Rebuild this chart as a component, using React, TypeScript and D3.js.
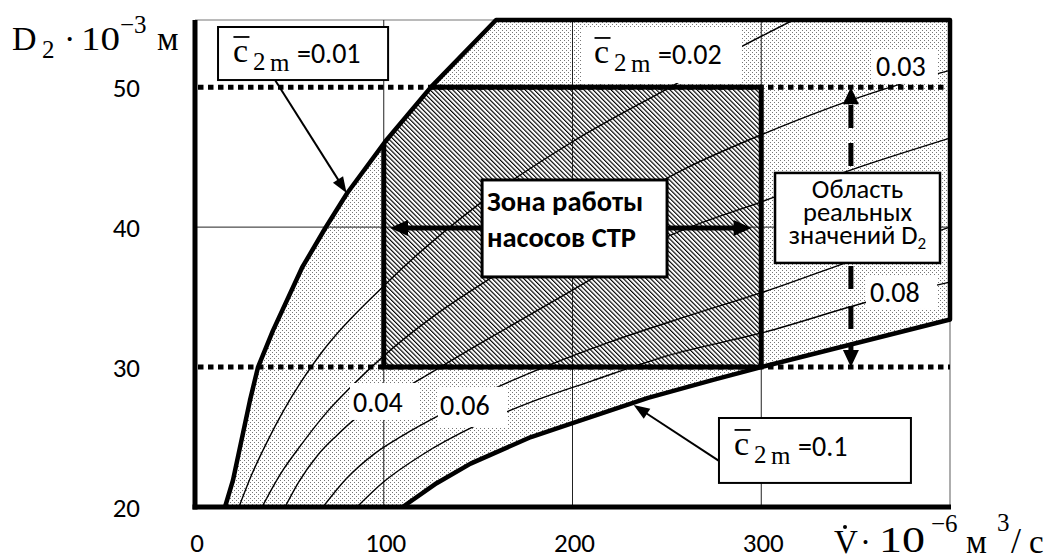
import React from "react";
import * as d3 from "d3";

type Pt = [number, number];

const W = 1048;
const H = 560;

// Axes: flow rate V̇·10⁻⁶ м³/с (x) and impeller diameter D₂·10⁻³ м (y)
const vDomain: Pt = [0, 400];
const dDomain: Pt = [20, 54.8];
const vTicks = [0, 100, 200, 300];
const dTicks = [20, 30, 40, 50];
const gridV = [100, 200, 300];
const gridD = [40];

// Iso-lines c̄2m = const, points are [V̇, D₂]
const iso001: Pt[] = [[15.9, 20], [20.1, 21.9], [29.1, 27.6], [33.4, 30], [41.3, 32.6], [56.7, 37.1], [68.9, 39.9], [80.5, 42.4], [100.7, 46.1], [125, 50], [159.5, 54.8]];
const iso002: Pt[] = [[23.3, 20], [30, 22.3], [38, 24.6], [47, 26.9], [56, 28.9], [68, 31.2], [100, 35.8], [151, 41.7], [200, 46.1], [253, 50.1], [291, 53.0], [317, 54.8]];
const iso003: Pt[] = [[35.5, 20], [45, 22.3], [56, 24.4], [70, 26.8], [82, 28.5], [100, 30.8], [125, 33.5], [156, 36.3], [220, 41.2], [260, 44.2], [300, 46.6], [366, 49.9], [400, 51.2]];
const iso004: Pt[] = [[47.7, 20], [55, 21.8], [65, 23.7], [75, 25.1], [84.8, 26.3], [100, 27.6], [115, 28.8], [130, 30.0], [150, 31.6], [200, 35.5], [250, 39.3], [302, 41.9], [350, 44.2], [400, 46.36]];
const iso006: Pt[] = [[67.8, 20], [80, 22.0], [95, 23.8], [110, 25.1], [130, 26.6], [164, 28.8], [185, 30.0], [220, 31.8], [260, 33.6], [302, 35.4], [350, 37.7], [400, 40.0]];
const iso008: Pt[] = [[85.8, 20], [100, 21.8], [120, 23.7], [150, 25.9], [180, 27.6], [210, 29.0], [250, 30.8], [302, 32.5], [357.6, 34.7], [400, 36.07]];
const iso010: Pt[] = [[110, 20], [128, 21.7], [146, 23.1], [178, 25.0], [200, 26.0], [240, 27.8], [275, 29.1], [300, 30], [400, 33.4]];

const thinLines = [iso002, iso003, iso004, iso006, iso008];

// Pump operating zone and the range of real D₂ values
const zoneV: Pt = [100, 300];
const zoneD: Pt = [30, 50];
const realV = 347.5;

const SANS = "Carlito, Lato, 'Open Sans', sans-serif";
const SERIF = "'Liberation Serif', 'DejaVu Serif', 'Times New Roman', serif";

const x = d3.scaleLinear().domain(vDomain).range([195, 950]);
const y = d3.scaleLinear().domain(dDomain).range([507, 20]);

const lin = d3.line<Pt>().x((p) => x(p[0])).y((p) => y(p[1]));
const smooth = d3.line<Pt>().x((p) => x(p[0])).y((p) => y(p[1])).curve(d3.curveMonotoneX);

const regionPts: Pt[] = [...iso001, [vDomain[1], dDomain[1]], ...iso010.slice().reverse()];
const boundaryPath = lin(regionPts) as string;
const regionPath = boundaryPath + "Z";

function head(tx: number, ty: number, fx: number, fy: number, len: number, hw: number) {
  const dx = tx - fx, dy = ty - fy;
  const L = Math.hypot(dx, dy);
  const ux = dx / L, uy = dy / L;
  const bx = tx - ux * len, by = ty - uy * len;
  return `${tx},${ty} ${bx - uy * hw},${by + ux * hw} ${bx + uy * hw},${by - ux * hw}`;
}

function Arrow({ from, to, w, len, hw }: { from: Pt; to: Pt; w: number; len: number; hw: number }) {
  const fx = x(from[0]), fy = y(from[1]), tx = x(to[0]), ty = y(to[1]);
  const L = Math.hypot(tx - fx, ty - fy);
  const ex = tx - ((tx - fx) / L) * len * 0.8;
  const ey = ty - ((ty - fy) / L) * len * 0.8;
  return (
    <g>
      <line x1={fx} y1={fy} x2={ex} y2={ey} stroke="#000" strokeWidth={w} />
      <polygon points={head(tx, ty, fx, fy, len, hw)} fill="#000" />
    </g>
  );
}

// c̄2m = value: the "c" with a bar, a "2 m" subscript and the number
function CLabel({ v, d, value }: { v: number; d: number; value: string }) {
  const px = x(v), py = y(d);
  return (
    <g>
      <text x={px} y={py} fontFamily={SERIF} fontSize={34}>c</text>
      <line x1={px + 0.5} x2={px + 16.5} y1={py - 25} y2={py - 25} stroke="#000" strokeWidth={1.8} />
      <text x={px + 20} y={py + 8} fontFamily={SERIF} fontSize={25}>2</text>
      <text x={px + 37} y={py + 9} fontFamily={SERIF} fontSize={25}>m</text>
      <text x={px + 64} y={py + 1} fontFamily={SANS} fontSize={28}>{value}</text>
    </g>
  );
}

function Box({ v0, v1, d0, d1, sw }: { v0: number; v1: number; d0: number; d1: number; sw: number }) {
  return (
    <rect x={x(v0)} y={y(d0)} width={x(v1) - x(v0)} height={y(d1) - y(d0)} fill="#fff" stroke={sw ? "#000" : "none"} strokeWidth={sw} />
  );
}

function NumLabel({ box, at, text }: { box: [number, number, number, number]; at: Pt; text: string }) {
  return (
    <g>
      <Box v0={box[0]} v1={box[1]} d0={box[2]} d1={box[3]} sw={0} />
      <text x={x(at[0])} y={y(at[1])} fontFamily={SANS} fontSize={28}>{text}</text>
    </g>
  );
}

export default function App() {
  const zx0 = x(zoneV[0]), zx1 = x(zoneV[1]), zy0 = y(zoneD[1]), zy1 = y(zoneD[0]);
  const ax = x(realV);
  const top = y(dDomain[1]), bottom = y(dDomain[0]);
  return (
    <svg width={W} height={H} style={{ position: "absolute", left: 0, top: 0, background: "#fff" }}>
      <defs>
        <pattern id="dots" width={4} height={4} patternUnits="userSpaceOnUse">
          <rect x={0} y={0} width={1.2} height={1.2} fill="#777" shapeRendering="crispEdges" />
          <rect x={2} y={2} width={1.2} height={1.2} fill="#777" shapeRendering="crispEdges" />
        </pattern>
        <pattern id="hatch" width={3.2} height={10} patternUnits="userSpaceOnUse" patternTransform="rotate(-45)">
          <rect x={0} y={0} width={1.15} height={10} fill="#000" />
        </pattern>
        <clipPath id="region">
          <path d={regionPath} />
        </clipPath>
        <clipPath id="plot">
          <rect x={x(0)} y={top} width={x(vDomain[1]) - x(0)} height={bottom - top} />
        </clipPath>
      </defs>

      <rect width={W} height={H} fill="#fff" />

      {/* frame */}
      <line x1={x(0)} x2={x(vDomain[1])} y1={top} y2={top} stroke="#777" strokeWidth={1.2} />
      <line x1={x(vDomain[1])} x2={x(vDomain[1])} y1={top} y2={bottom} stroke="#777" strokeWidth={1.2} />

      {/* feasible region */}
      <path d={regionPath} fill="url(#dots)" />

      {/* operating zone */}
      <g clipPath="url(#region)">
        <rect x={zx0} y={zy0} width={zx1 - zx0} height={zy1 - zy0} fill="#fff" />
        <rect x={zx0} y={zy0} width={zx1 - zx0} height={zy1 - zy0} fill="url(#hatch)" />
      </g>

      {/* grid */}
      {gridV.map((v) => (
        <line key={v} x1={x(v)} x2={x(v)} y1={top} y2={bottom} stroke="#222" strokeWidth={1} />
      ))}
      {gridD.map((d) => (
        <line key={d} x1={x(0)} x2={x(vDomain[1])} y1={y(d)} y2={y(d)} stroke="#222" strokeWidth={1} />
      ))}

      {/* iso-lines */}
      <g clipPath="url(#plot)">
        {thinLines.map((pts, i) => (
          <path key={i} d={smooth(pts) as string} fill="none" stroke="#000" strokeWidth={1.4} />
        ))}
      </g>

      {/* real D2 limits */}
      {[zoneD[1], zoneD[0]].map((d) => (
        <line key={d} x1={x(0) + 3} x2={x(vDomain[1])} y1={y(d)} y2={y(d)} stroke="#000" strokeWidth={5} strokeDasharray="5.5 4.5" />
      ))}

      {/* boundary c̄2m = 0.01 ... 0.1 */}
      <path d={boundaryPath} fill="none" stroke="#000" strokeWidth={4.5} strokeLinejoin="round" />

      {/* zone outline */}
      <g clipPath="url(#region)">
        <rect x={zx0} y={zy0} width={zx1 - zx0} height={zy1 - zy0} fill="none" stroke="#000" strokeWidth={5} />
      </g>

      {/* axes */}
      <line x1={x(0)} x2={x(0)} y1={top} y2={bottom + 2.5} stroke="#000" strokeWidth={5} />
      <line x1={x(0) - 2.5} x2={x(vDomain[1]) + 1} y1={bottom} y2={bottom} stroke="#000" strokeWidth={5} />

      {/* tick labels */}
      {dTicks.map((d) => (
        <text key={d} x={140} y={y(d) + 10} textAnchor="end" fontFamily={SANS} fontSize={27}>{d}</text>
      ))}
      {vTicks.map((v) => (
        <text key={v} x={x(v) + 2} y={552} textAnchor="middle" fontFamily={SANS} fontSize={27}>{v}</text>
      ))}

      {/* axis titles */}
      <g fontFamily={SERIF}>
        <text x={12} y={50} fontSize={34}>D</text>
        <text x={42} y={58} fontSize={25}>2</text>
        <text x={64} y={50} fontSize={34}>·</text>
        <text x={81} y={50} fontSize={34} textLength={39} lengthAdjust="spacingAndGlyphs">10</text>
        <text x={120} y={33} fontSize={25}>−3</text>
        <text x={157} y={50} fontSize={34}>м</text>

        <text x={834} y={553} fontSize={33}>V</text>
        <circle cx={845} cy={527} r={2} fill="#000" />
        <text x={860} y={553} fontSize={33}>·</text>
        <text x={879} y={552} fontSize={35} textLength={46} lengthAdjust="spacingAndGlyphs">10</text>
        <text x={931} y={532} fontSize={25}>−6</text>
        <text x={966} y={553} fontSize={33}>м</text>
        <text x={997} y={531} fontSize={25}>3</text>
        <text x={1011} y={553} fontSize={36}>/</text>
        <text x={1029} y={553} fontSize={33}>с</text>
      </g>

      {/* unframed iso-line labels */}
      <g>
        <Box v0={205.0} v1={289.8} d0={54.23} d1={50.3} sw={0} />
        <CLabel v={211.4} d={51.73} value="=0.02" />
      </g>
      <NumLabel box={[358.7, 393.6, 52.66, 50.23]} at={[360.8, 50.8]} text="0.03" />
      <NumLabel box={[82.1, 119.2, 28.86, 26.22]} at={[83.7, 26.79]} text="0.04" />
      <NumLabel box={[128.7, 165.3, 28.58, 25.72]} at={[129.8, 26.57]} text="0.06" />
      <NumLabel box={[355.5, 393.1, 36.51, 34.15]} at={[357.6, 34.65]} text="0.08" />

      {/* c̄2m = 0.01 callout */}
      <Arrow from={[42.4, 50.51]} to={[80.3, 42.44]} w={2} len={16} hw={6} />
      <Box v0={12.2} v1={102.3} d0={54.3} d1={50.51} sw={2} />
      <CLabel v={20.1} d={51.8} value="=0.01" />

      {/* c̄2m = 0.1 callout */}
      <Arrow from={[277.6, 23.29]} to={[232.4, 27.29]} w={2} len={16} hw={6} />
      <Box v0={277.6} v1={379.3} d0={26.36} d1={21.72} sw={2} />
      <CLabel v={285.6} d={23.72} value="=0.1" />

      {/* operating zone callout */}
      <Arrow from={[152.1, 39.93]} to={[103.3, 39.93]} w={5} len={18} hw={8} />
      <Arrow from={[250.1, 39.93]} to={[294.9, 39.93]} w={5} len={18} hw={8} />
      <Box v0={152.1} v1={250.1} d0={43.37} d1={36.44} sw={3} />
      <text x={x(154.7)} y={y(41.15)} fontFamily={SANS} fontWeight={700} fontSize={28.5}>Зона работы</text>
      <text x={x(154.7)} y={y(38.58)} fontFamily={SANS} fontWeight={700} fontSize={28.5}>насосов СТР</text>

      {/* real D2 range arrow */}
      <line x1={ax} x2={ax} y1={y(48.73)} y2={y(44.0)} stroke="#000" strokeWidth={5} strokeDasharray="23 15" />
      <polygon points={head(ax, y(zoneD[1]), ax, y(40), 17, 8)} fill="#000" />
      <line x1={ax} x2={ax} y1={y(37.22)} y2={y(31.22)} stroke="#000" strokeWidth={5} strokeDasharray="23 17" />
      <polygon points={head(ax, y(zoneD[0]), ax, y(40), 17, 8)} fill="#000" />
      <Box v0={307.3} v1={394.7} d0={43.87} d1={37.44} sw={2.5} />
      <g fontFamily={SANS} fontSize={26.5} textAnchor="middle">
        <text x={x(351)} y={y(42.08)}>Область</text>
        <text x={x(351)} y={y(40.44)}>реальных</text>
        <text x={x(351)} y={y(38.79)}>
          значений D<tspan fontSize={17} dy={5}>2</tspan>
        </text>
      </g>
    </svg>
  );
}
